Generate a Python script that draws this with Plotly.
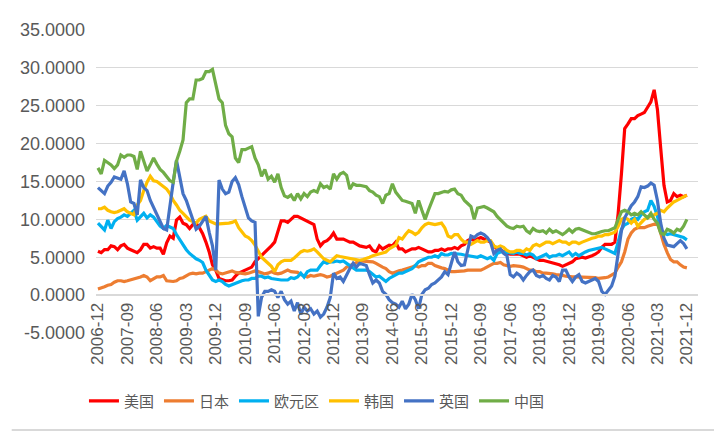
"""M2 growth comparison chart, redrawn with Plotly."""

import pandas as pd
import plotly.graph_objects as go

# monthly categories 2006-12 .. 2021-12
months = [d.strftime("%Y-%m") for d in pd.date_range("2006-12-01", "2021-12-01", freq="MS")]
tick_labels = months[::9]
y_ticks = [-5, 0, 5, 10, 15, 20, 25, 30, 35]

us = [
    5.8, 5.6, 6.0, 6.0, 6.5, 6.4, 6.0, 6.5, 6.7, 6.2,
    6.0, 5.8, 5.6, 6.0, 6.7, 6.7, 6.2, 6.4, 6.2, 6.2,
    5.4, 6.9, 7.8, 7.5, 9.9, 10.3, 9.5, 9.3, 8.8, 9.3,
    9.5, 8.9, 8.1, 7.0, 5.7, 4.0, 3.3, 2.2, 2.0, 1.9,
    1.9, 2.0, 2.5, 2.9, 3.1, 3.3, 3.5, 3.7, 4.4, 4.8,
    5.2, 5.7, 6.1, 6.5, 7.0, 8.3, 9.8, 9.8, 9.6, 10.0,
    10.4, 10.4, 10.2, 10.0, 9.8, 9.5, 9.3, 7.4, 6.5, 7.0,
    7.2, 7.6, 8.2, 7.4, 7.4, 7.4, 7.2, 7.0, 7.0, 6.7,
    6.5, 6.4, 6.3, 6.5, 5.9, 5.7, 6.5, 6.1, 6.4, 6.6,
    6.5, 7.0, 6.1, 6.1, 5.7, 5.9, 6.1, 6.1, 6.3, 6.1,
    5.9, 5.7, 5.7, 5.9, 5.9, 6.1, 5.9, 6.1, 6.1, 6.3,
    6.1, 6.5, 6.7, 7.2, 7.4, 7.2, 7.4, 7.6, 7.4, 7.2,
    7.0, 6.5, 6.1, 6.0, 5.7, 5.5, 5.4, 5.4, 5.5, 5.4,
    5.2, 5.0, 5.2, 5.0, 4.8, 4.6, 4.6, 4.5, 4.4, 4.3,
    4.2, 4.0, 3.8, 4.0, 4.2, 4.4, 4.8, 4.9, 5.0, 4.9,
    5.0, 5.2, 5.4, 5.7, 6.3, 6.7, 6.7, 6.7, 7.0, 10.8,
    16.0, 22.0, 22.6, 23.3, 23.3, 23.7, 23.9, 24.1, 24.8, 25.5,
    27.1, 24.5, 19.4, 14.5, 12.3, 12.5, 13.4, 13.0, 13.2, 13.0,
    13.2,
]

japan = [
    0.8, 0.9, 1.1, 1.3, 1.4, 1.7, 1.9, 1.9, 1.8, 1.9,
    2.0, 2.2, 2.2, 2.4, 2.6, 2.4, 1.9, 2.2, 2.4, 2.4,
    2.6, 1.9, 1.8, 1.8, 1.9, 2.2, 2.3, 2.6, 2.8, 2.9,
    2.8, 2.9, 2.9, 3.1, 3.3, 3.5, 3.3, 2.9, 2.8, 2.9,
    3.1, 3.2, 3.0, 2.9, 2.9, 2.8, 2.9, 3.1, 3.2, 3.1,
    2.9, 2.8, 2.9, 3.1, 2.9, 2.8, 2.9, 3.1, 3.3, 3.1,
    3.1, 3.0, 2.7, 2.6, 2.4, 2.6, 2.5, 2.6, 2.7, 2.6,
    2.4, 2.5, 2.7, 2.9, 3.1, 3.3, 3.7, 3.9, 4.1, 4.4,
    4.5, 4.5, 4.5, 4.4, 4.4, 4.2, 3.9, 3.7, 3.5, 3.1,
    2.9, 3.1, 3.2, 3.3, 3.4, 3.5, 3.7, 3.9, 3.7, 3.9,
    3.9, 4.2, 4.2, 3.9, 3.7, 3.6, 3.5, 3.3, 3.1, 3.1,
    3.1, 3.1, 3.2, 3.3, 3.3, 3.2, 3.3, 3.3, 3.5, 3.7,
    3.9, 4.2, 4.2, 4.3, 4.0, 3.9, 3.8, 3.9, 3.9, 3.8,
    3.7, 3.5, 3.3, 3.3, 3.1, 3.1, 2.9, 2.9, 2.9, 2.8,
    2.7, 2.7, 2.6, 2.5, 2.4, 2.4, 2.4, 2.4, 2.4, 2.4,
    2.4, 2.4, 2.3, 2.2, 2.2, 2.3, 2.4, 2.7, 2.9, 3.7,
    4.4, 5.7, 7.4, 8.2, 8.7, 8.9, 8.9, 8.9, 9.1, 9.2,
    9.3, 9.5, 8.2, 6.7, 5.6, 4.7, 4.4, 4.4, 4.0, 3.7,
    3.6,
]

euro = [
    9.5, 9.1, 8.6, 9.9, 8.8, 9.7, 10.1, 10.3, 10.6, 10.4,
    10.8, 11.2, 9.9, 10.3, 10.8, 10.2, 10.6, 10.3, 9.7, 9.1,
    8.8, 9.2, 9.0, 8.8, 8.0, 7.3, 6.7, 6.0, 5.5, 5.1,
    4.8, 4.6, 4.3, 3.3, 2.7, 2.0, 1.8, 2.0, 1.8, 1.4,
    1.2, 1.4, 1.6, 1.8, 1.9, 2.0, 2.0, 2.2, 2.2, 2.5,
    2.5, 2.3, 2.4, 2.2, 2.1, 2.1, 2.0, 2.0, 2.0, 2.3,
    2.2, 2.4, 2.9, 2.4, 3.1, 3.3, 3.3, 3.3, 3.9, 4.4,
    4.2, 4.4, 4.4, 4.5, 4.4, 4.5, 4.2, 3.9, 3.5, 3.3,
    3.3, 3.3, 3.3, 3.1, 2.7, 2.4, 2.5, 2.2, 1.8, 2.2,
    2.4, 2.6, 2.9, 2.9, 3.1, 3.3, 3.5, 3.9, 4.4, 4.6,
    4.8, 5.0, 5.0, 5.2, 5.0, 5.5, 5.3, 5.3, 5.5, 5.5,
    5.5, 5.4, 5.3, 5.2, 5.1, 5.0, 5.0, 5.2, 5.0, 4.8,
    5.0, 4.6, 5.5, 5.7, 5.7, 5.6, 5.5, 5.5, 5.7, 5.5,
    5.5, 5.3, 5.5, 5.3, 4.8, 5.0, 5.2, 5.4, 5.0, 5.2,
    5.2, 5.4, 5.2, 5.4, 5.7, 5.2, 5.5, 5.2, 5.5, 5.7,
    5.9, 6.0, 6.0, 6.2, 6.3, 6.1, 5.9, 5.7, 5.5, 7.0,
    8.7, 9.3, 9.5, 10.0, 10.2, 10.0, 10.6, 11.0, 11.2, 12.5,
    11.7, 10.4, 8.7, 8.2, 8.0, 8.1, 8.0, 7.8, 7.8, 7.6,
    7.3,
]

korea = [
    11.4, 11.4, 11.6, 11.2, 11.0, 10.9, 11.0, 11.2, 11.4, 11.0,
    10.8, 10.6, 11.9, 12.5, 13.8, 14.9, 15.7, 15.1, 15.0, 14.7,
    14.4, 14.0, 13.4, 12.5, 11.9, 11.2, 10.8, 10.3, 9.9, 9.7,
    9.5, 10.0, 10.2, 10.4, 9.8, 9.6, 9.4, 9.4, 9.4, 9.4,
    9.5, 9.6, 9.8, 8.9, 8.3, 7.8, 7.6, 7.2, 6.6, 5.7,
    5.0, 4.6, 4.2, 3.8, 3.1, 4.0, 4.4, 4.6, 4.6, 4.6,
    4.9, 5.3, 5.7, 5.9, 5.8, 5.9, 6.1, 5.7, 5.2, 4.8,
    4.6, 4.4, 4.8, 5.2, 5.1, 5.0, 4.9, 4.8, 4.7, 4.6,
    4.6, 4.7, 4.8, 5.0, 5.2, 5.3, 5.5, 5.6, 5.7, 6.1,
    6.3, 6.6, 7.6, 7.4, 8.0, 8.5, 8.3, 8.0, 8.3, 8.9,
    9.3, 9.5, 9.4, 9.3, 9.4, 9.5, 8.9, 7.8, 7.6, 8.0,
    8.0, 7.4, 7.0, 7.0, 6.7, 6.9, 7.2, 7.0, 7.0, 7.2,
    7.2, 6.5, 6.3, 6.5, 6.3, 5.9, 5.7, 5.7, 5.9, 5.9,
    5.7, 6.1, 5.9, 6.5, 6.7, 6.5, 6.7, 7.0, 7.0, 6.8,
    7.0, 7.2, 7.0, 7.0, 6.7, 7.0, 7.0, 6.8, 7.0, 7.2,
    7.4, 7.5, 7.6, 7.8, 7.8, 8.0, 8.0, 8.2, 8.3, 9.1,
    10.0, 10.2, 10.0, 9.5, 10.0, 9.1, 9.5, 10.0, 10.2, 10.4,
    10.6, 10.8, 11.2, 11.0, 11.5, 11.9, 12.3, 12.5, 12.7, 13.0,
    13.2,
]

uk = [
    14.2, 13.8, 13.4, 14.4, 14.9, 15.6, 15.5, 15.3, 16.4, 14.7,
    12.3, 12.1, 10.6, 15.2, 14.2, 13.8, 12.5, 11.6, 10.8, 9.9,
    8.8, 8.6, 12.1, 14.9, 17.8, 15.3, 13.4, 12.5, 11.2, 10.0,
    8.7, 9.1, 9.8, 10.4, 8.3, 6.5, 3.3, 15.2, 14.0, 13.4,
    13.6, 15.0, 15.5, 14.6, 13.0, 11.7, 10.2, 9.8, 9.6, -2.8,
    -0.3, 0.5, 0.5, 0.7, 0.5, -0.3, 0.5, -0.6, -1.2, -0.8,
    -2.1, -1.0, -2.5, -1.6, -2.1, -1.8, -2.5, -2.1, -2.9, -2.5,
    -1.6, -0.3, 2.9, 2.2, 2.4, 1.8, 2.7, 3.5, 4.2, 3.7,
    4.2, 4.0, 3.9, 2.7, 1.6, 2.0, 1.6, 0.5, 0.1, -0.6,
    -1.0, -1.2, -1.6, -0.8, -1.8, -1.2, 0.1, -0.6, -1.8, 0.1,
    0.7, 0.9, 1.4, 1.6, 2.0, 2.4, 3.1, 2.7, 4.2, 5.7,
    4.4, 3.9, 4.0, 6.1, 7.8, 7.6, 8.0, 8.2, 8.0, 7.6,
    7.0, 5.5, 5.9, 6.1, 5.5, 5.2, 2.7, 2.4, 2.9, 2.6,
    2.0, 2.6, 3.1, 3.3, 2.6, 2.4, 2.6, 2.2, 2.0, 2.6,
    2.4, 1.8, 3.3, 3.3, 2.4, 1.8, 2.4, 2.7, 1.8, 1.6,
    1.8, 2.0, 2.2, 1.8, 0.5, 0.1, 0.7, 1.2, 2.5, 5.5,
    8.5, 10.2, 11.0, 11.8, 12.3, 13.0, 14.3, 14.2, 14.4, 14.8,
    14.5, 12.5, 9.5, 7.5, 6.6, 6.5, 6.4, 6.8, 7.2, 6.8,
    6.1,
]

china = [
    16.8, 16.0, 17.8, 17.5, 17.2, 16.7, 17.2, 18.5, 18.2, 18.5,
    18.5, 18.3, 16.6, 19.0, 17.6, 16.4, 17.2, 18.1, 17.3, 16.6,
    16.2, 15.6, 15.1, 14.9, 17.7, 19.0, 20.5, 25.4, 25.9, 25.9,
    28.4, 28.4, 28.6, 29.5, 29.5, 29.8, 27.6, 25.9, 25.4, 22.4,
    21.3, 20.9, 18.1, 17.5, 19.2, 19.2, 19.4, 19.6, 18.1, 17.2,
    15.7, 16.6, 15.3, 15.7, 14.9, 16.0, 14.2, 13.1, 12.9, 13.2,
    12.5, 13.4, 12.7, 13.4, 13.0, 13.6, 13.8, 13.6, 14.7, 14.2,
    14.4, 14.0, 16.0, 15.3, 16.0, 16.2, 15.8, 14.0, 14.7, 14.5,
    14.5, 14.4, 14.3, 13.8, 13.6, 13.2, 13.0, 12.1, 13.2, 13.4,
    14.7, 13.6, 13.0, 12.5, 12.4, 12.3, 12.1, 10.8, 12.5, 11.2,
    10.0, 11.2, 12.3, 13.4, 13.4, 13.5, 13.7, 13.6, 13.9, 14.0,
    13.4, 13.2, 12.5, 12.1, 11.7, 10.0, 11.5, 11.6, 11.7, 11.5,
    11.2, 11.0, 10.4, 10.0, 9.5, 9.1, 8.9, 8.8, 9.1, 9.0,
    9.1, 8.5, 8.2, 8.8, 8.5, 8.4, 8.5, 8.2, 8.7, 8.3,
    8.5, 8.2, 8.0, 8.3, 8.7, 8.3, 8.7, 8.8, 8.6, 8.5,
    8.2, 8.1, 8.1, 8.3, 8.4, 8.5, 8.5, 8.7, 8.9, 10.0,
    11.0, 11.2, 11.0, 10.6, 10.8, 10.6, 11.0, 10.6, 10.2, 10.8,
    10.0, 9.5, 8.2, 8.0, 8.7, 8.5, 8.2, 8.7, 8.5, 9.1,
    10.0,
]

series = [
    ("美国", us, "#FF0000"),
    ("日本", japan, "#ED7D31"),
    ("欧元区", euro, "#00B0F0"),
    ("韩国", korea, "#FFC000"),
    ("英国", uk, "#4472C4"),
    ("中国", china, "#70AD47"),
]

GRID = "#D9D9D9"
TEXT = "#595959"
FONT = "Liberation Sans, Arial, Noto Sans CJK SC, sans-serif"

fig = go.Figure()
for name, values, color in series:
    fig.add_trace(
        go.Scatter(
            name=name,
            x=months,
            y=values,
            mode="lines",
            line={"color": color, "width": 3.2},
        )
    )

# the page body has an 8px margin, so the figure is 8px smaller than the window
fig.update_layout(
    width=714,
    height=426,
    margin=dict(l=85, r=24, t=14, b=101),
    paper_bgcolor="white",
    plot_bgcolor="white",
    font={"family": FONT, "color": TEXT},
    showlegend=True,
    legend={
        "orientation": "h",
        "x": -0.02,
        "xanchor": "left",
        "y": -0.225,
        "yanchor": "middle",
        "font": {"size": 15, "color": TEXT, "family": "Noto Sans CJK SC, sans-serif"},
        "itemwidth": 30,
    },
    xaxis={
        "type": "category",
        "categoryorder": "array",
        "categoryarray": months,
        "range": [-0.6, 183.4],
        "tickmode": "array",
        "tickvals": tick_labels,
        "ticktext": tick_labels,
        "tickangle": -90,
        "tickfont": {"size": 17, "color": TEXT},
        "showgrid": False,
        "showline": True,
        "linecolor": GRID,
        "linewidth": 1.5,
        "ticks": "",
        "anchor": "free",
        "position": 0.125,
    },
    yaxis={
        "range": [-5, 35],
        "tickmode": "array",
        "tickvals": y_ticks,
        "ticktext": [f"{v:.4f}" for v in y_ticks],
        "tickfont": {"size": 18, "color": TEXT},
        "ticklabelstandoff": 10,
        "gridcolor": GRID,
        "gridwidth": 1.3,
        "zeroline": False,
        "showline": False,
        "ticks": "",
    },
    shapes=[
        # chart-area border (right and bottom edges)
        {"type": "line", "xref": "paper", "yref": "paper",
         "x0": 1.035, "x1": 1.035, "y0": -0.32, "y1": 1.05,
         "line": {"color": GRID, "width": 2}, "layer": "below"},
        {"type": "line", "xref": "paper", "yref": "paper",
         "x0": -0.14, "x1": 1.035, "y0": -0.32, "y1": -0.32,
         "line": {"color": GRID, "width": 2}, "layer": "below"},
    ],
)

fig.write_html("out.html")
